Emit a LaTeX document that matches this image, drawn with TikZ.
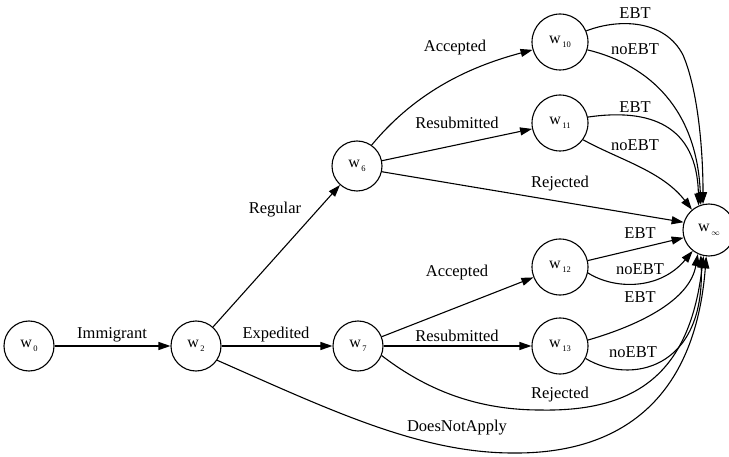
\documentclass[tikz,border=0pt]{standalone}
\usepackage{fontspec}
\setmainfont{Liberation Serif}
\usetikzlibrary{arrows.meta}
% state name: letter w with a small lowered index
\newcommand{\wsub}[1]{w\kern1.5pt\raisebox{-4.5pt}{\fontsize{8.5}{9}\selectfont #1}}
\begin{document}
\begin{tikzpicture}[x=1pt,y=1pt,
  state/.style={circle,draw,line width=1.1pt,inner sep=0pt,minimum size=50pt,
    font=\fontsize{16}{18}\selectfont},
  wide/.style={minimum size=56pt},
  edge/.style={line width=1.1pt,-{Triangle[length=12pt,width=8pt]}},
  lbl/.style={font=\fontsize{16.5}{19}\selectfont,inner sep=0pt}]
\useasboundingbox (0,0) rectangle (729,456);

% states
\node[state] (w0) at (29,110) {\wsub{0}};
\node[state] (w2) at (196,110) {\wsub{2}};
\node[state] (w7) at (358,110) {\wsub{7}};
\node[state] (w6) at (357,290) {\wsub{6}};
\node[state,wide] (w10) at (560,414) {\wsub{10}};
\node[state,wide] (w11) at (560,333) {\wsub{11}};
\node[state,wide] (w12) at (560,189) {\wsub{12}};
\node[state,wide] (w13) at (560,110) {\wsub{13}};
\node[state,minimum size=52pt] (winf) at (709,226) {\wsub{$\infty$}};

% transitions
\draw[edge] (w0) -- (w2);
\draw[edge] (w2) -- (w7);
\draw[edge] (w2) -- (w6);
\draw[edge] (w2.-34) .. controls (330,46) and (420,3) .. (513,3)
  .. controls (620,2) and (695,56) .. (winf.264);

\draw[edge] (w6.55) .. controls (418,367) and (474,390.5) .. (w10.196);
\draw[edge] (w6) -- (w11);
\draw[edge] (w6.-13) -- (winf.163);

\draw[edge] (w7) -- (w12);
\draw[edge] (w7) -- (w13);
\draw[edge] (w7.-22) .. controls (420,71) and (470,46) .. (540,46)
  .. controls (640,44) and (690,86) .. (winf.258);

\draw[edge] (w10.23) .. controls (620,438) and (665,436) .. (683,401)
  .. controls (698,366) and (703,306) .. (winf.103);
\draw[edge] (w10.-16) .. controls (650,391) and (697,346) .. (winf.108);
\draw[edge] (w11.12) .. controls (650,348) and (697,331) .. (winf.113);
\draw[edge] (w11.-36) .. controls (620,296) and (662,285) .. (winf.130);
\draw[edge] (w12.13) -- (winf.197);
\draw[edge] (w12.-12) .. controls (615,166) and (660,166) .. (winf.232);
\draw[edge] (w13.12) .. controls (640,131) and (690,156) .. (winf.245);
\draw[edge] (w13.-26) .. controls (630,71) and (705,86) .. (winf.252);

% transition labels
\node[lbl] (lImm) at (112,121) {Immigrant};
\node[lbl] (lExp) at (276,121) {Expedited};
\node[lbl] (lReg) at (275,246) {Regular};
\node[lbl] (lDna) at (457,28) {DoesNotApply};
\node[lbl] (lAcc6) at (455,408) {Accepted};
\node[lbl] (lRes6) at (457,333) {Resubmitted};
\node[lbl] (lRej6) at (560,272) {Rejected};
\node[lbl] (lAcc7) at (457,183) {Accepted};
\node[lbl] (lRes7) at (457,120) {Resubmitted};
\node[lbl] (lRej7) at (560,61) {Rejected};
\node[lbl] (lE10) at (635,443) {EBT};
\node[lbl] (lN10) at (635,407) {noEBT};
\node[lbl] (lE11) at (635,349) {EBT};
\node[lbl] (lN11) at (635,311) {noEBT};
\node[lbl] (lE12) at (640,223) {EBT};
\node[lbl] (lN12) at (640,187) {noEBT};
\node[lbl] (lE13) at (640,159) {EBT};
\node[lbl] (lN13) at (633,104) {noEBT};
\end{tikzpicture}
\end{document}
